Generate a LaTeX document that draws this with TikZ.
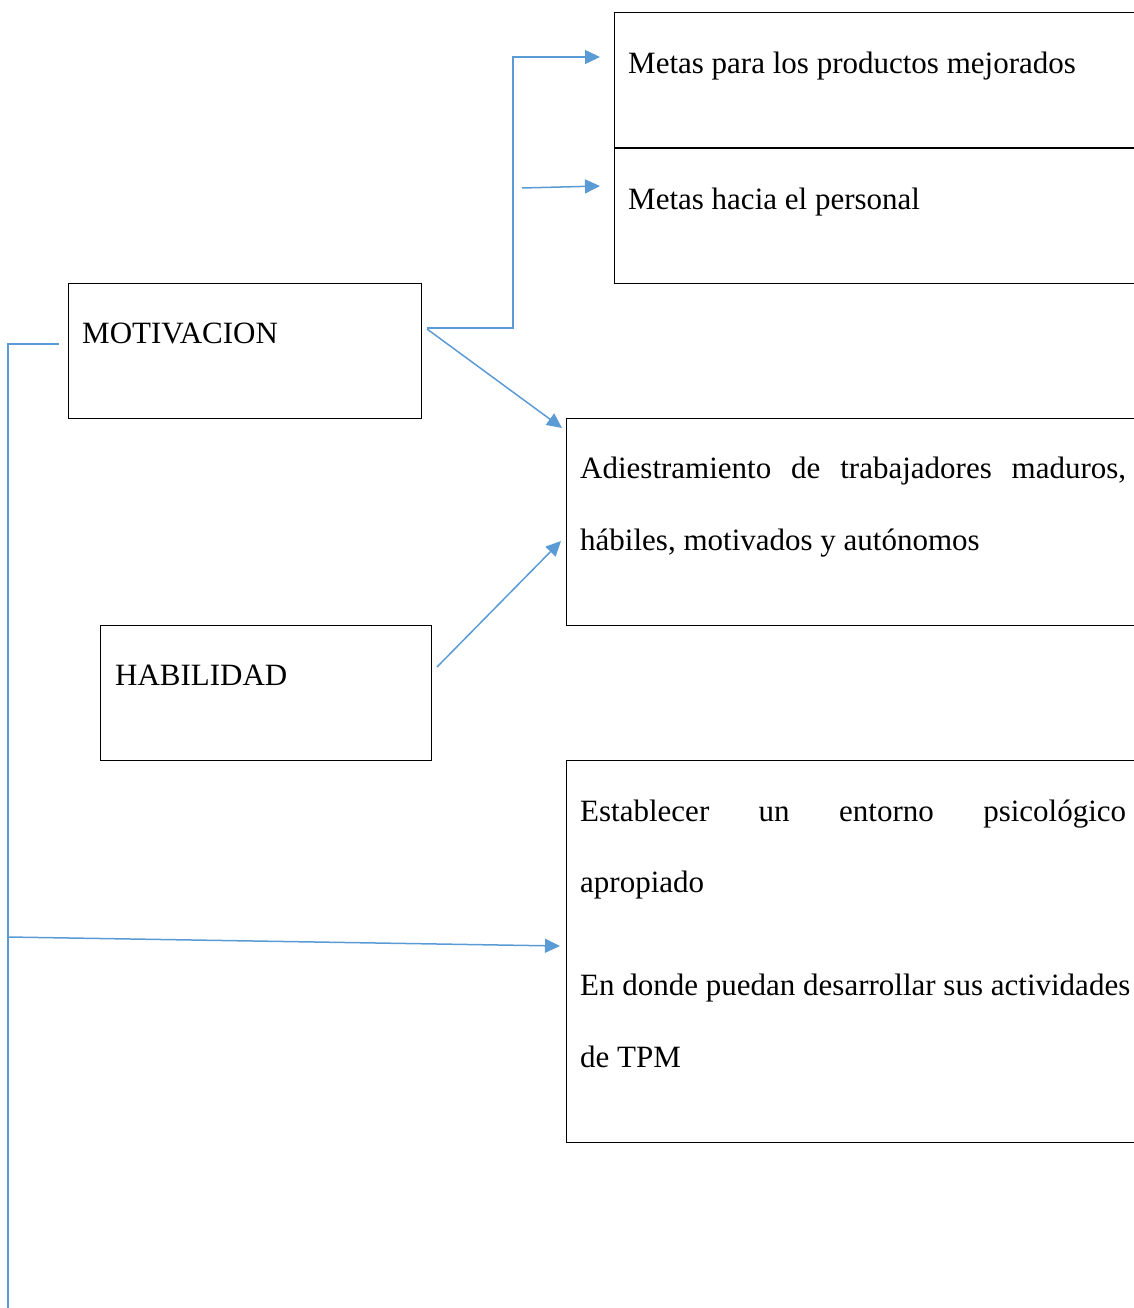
\documentclass[tikz,border=0pt]{standalone}
\usepackage{fontspec}
\setmainfont{Liberation Serif}
\usetikzlibrary{arrows.meta}
\definecolor{connc}{RGB}{91,155,213}
\begin{document}
\begin{tikzpicture}[x=1pt,y=-1pt,
  box/.style={draw=black, line width=1.2pt, rectangle, inner sep=0pt, anchor=north west},
  txt/.style={anchor=base west, inner sep=0pt, font=\fontsize{31}{36}\selectfont},
  conn/.style={draw=connc, line width=1.5pt, -{Triangle[length=15pt,width=14pt]}},
  plain/.style={draw=connc, line width=1.5pt}]
\useasboundingbox (0,0) rectangle (1133,1308);

% boxes
\node[box, minimum width=540pt, minimum height=135pt] (m1) at (614,12) {};
\node[box, minimum width=540pt, minimum height=135pt] (m2) at (614,148) {};
\node[box, minimum width=353pt, minimum height=135pt] (mot) at (68,283) {};
\node[box, minimum width=590pt, minimum height=207pt] (adi) at (566,418) {};
\node[box, minimum width=331pt, minimum height=135pt] (hab) at (100,625) {};
\node[box, minimum width=590pt, minimum height=382pt] (est) at (566,760) {};

% texts
\node[txt] (t1) at (628,74) {Metas para los productos mejorados};
\node[txt] (t2) at (628,209) {Metas hacia el personal};
\node[txt] (tm) at (82,343) {MOTIVACION};
\node[txt] (ta1) at (580,478) {\hbox to 546pt{Adiestramiento\hfill de\hfill trabajadores\hfill maduros,}};
\node[txt] (ta2) at (580,550) {hábiles, motivados y autónomos};
\node[txt] (th) at (115,685) {HABILIDAD};
\node[txt] (te1) at (580,821) {\hbox to 546pt{Establecer\hfill un\hfill entorno\hfill psicológico}};
\node[txt] (te2) at (580,892) {apropiado};
\node[txt] (te3) at (580,995) {En donde puedan desarrollar sus actividades};
\node[txt] (te4) at (580,1067) {de TPM};

% connector end points
\coordinate (a0) at (427,328);
\coordinate (a1) at (600,57);
\coordinate (b0) at (522,188);
\coordinate (b1) at (600,186);
\coordinate (c0) at (427,329);
\coordinate (c1) at (562,428);
\coordinate (d0) at (437,667);
\coordinate (d1) at (561,541);
\coordinate (l0) at (59,344);
\coordinate (l1) at (8,1308);
\coordinate (e0) at (8,937);
\coordinate (e1) at (560,946);

% connectors
\draw[conn] (a0) -- (513,328) |- (a1);
\draw[conn] (b0) -- (b1);
\draw[conn] (c0) -- (c1);
\draw[conn] (d0) -- (d1);
\draw[plain] (l0) -| (l1);
\draw[conn] (e0) -- (e1);
\end{tikzpicture}
\end{document}
